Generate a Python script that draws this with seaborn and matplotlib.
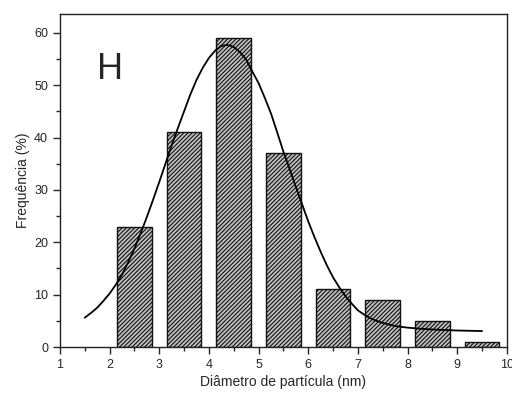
import matplotlib
matplotlib.use("Agg")
import matplotlib.pyplot as plt
import seaborn as sns
import pandas as pd
from matplotlib.ticker import MultipleLocator

# Histogram bars
diameters = [2.5, 3.5, 4.5, 5.5, 6.5, 7.5, 8.5, 9.5]
frequencies = [23, 41, 59, 37, 11, 9, 5, 1]

# Fitted curve
curve_x = [1.5, 1.625, 1.75, 1.875, 2.0, 2.125, 2.25, 2.375, 2.5, 2.625, 2.75, 2.875,
           3.0, 3.125, 3.25, 3.375, 3.5, 3.625, 3.75, 3.875, 4.0, 4.125, 4.25, 4.375,
           4.5, 4.625, 4.75, 4.875, 5.0, 5.125, 5.25, 5.375, 5.5, 5.625, 5.75, 5.875,
           6.0, 6.125, 6.25, 6.375, 6.5, 6.625, 6.75, 6.875, 7.0, 7.125, 7.25, 7.375,
           7.5, 7.625, 7.75, 7.875, 8.0, 8.25, 8.5, 8.75, 9.0, 9.25, 9.5]
curve_y = [5.6, 6.5, 7.5, 8.8, 10.2, 11.9, 13.8, 16.2, 18.8, 21.7, 24.8, 28.1,
           31.5, 35.0, 38.5, 41.8, 45.0, 48.2, 51.0, 53.3, 55.2, 56.6, 57.5, 57.7,
           57.3, 56.3, 54.9, 52.6, 50.4, 47.6, 44.6, 41.0, 37.3, 34.0, 30.6, 27.3,
           24.0, 21.0, 18.2, 15.6, 13.3, 11.4, 9.7, 8.3, 7.0, 6.2, 5.5, 5.0,
           4.6, 4.3, 4.0, 3.85, 3.7, 3.5, 3.35, 3.25, 3.15, 3.1, 3.05]

x_ticks = [1, 2, 3, 4, 5, 6, 7, 8, 9, 10]
y_ticks = [0, 10, 20, 30, 40, 50, 60]

sns.set_style("ticks")
plt.rcParams['font.family'] = ['Liberation Sans', 'DejaVu Sans']
plt.rcParams['hatch.linewidth'] = 0.8

fig = plt.figure(figsize=(5.12, 3.96), dpi=100)
ax = fig.add_axes([0.117, 0.1237, 0.873, 0.841])

df = pd.DataFrame({"d": diameters, "f": frequencies})
sns.barplot(data=df, x="d", y="f", native_scale=True, width=0.7,
            color="#c0c0c0", edgecolor="black", linewidth=1.0, ax=ax,
            saturation=1)
for p in ax.patches:
    p.set_hatch("////////")
    p.set_facecolor("#c0c0c0")
    p.set_edgecolor("#111111")

cdf = pd.DataFrame({"x": curve_x, "y": curve_y})
sns.lineplot(data=cdf, x="x", y="y", color="black", linewidth=1.3, ax=ax)

ax.set_xlim(1, 10)
ax.set_ylim(0, 63.6)
ax.set_xticks(x_ticks)
ax.set_xticklabels([str(t) for t in x_ticks])
ax.set_yticks(y_ticks)
ax.xaxis.set_minor_locator(MultipleLocator(0.5))
ax.yaxis.set_minor_locator(MultipleLocator(5))
ax.tick_params(axis='both', which='major', direction='out', length=5, width=1,
               labelsize=9, top=False, right=False)
ax.tick_params(axis='both', which='minor', direction='out', length=3, width=1,
               top=False, right=False)
for s in ax.spines.values():
    s.set_visible(True)
    s.set_linewidth(1.0)
    s.set_color('#222222')

ax.set_xlabel("Diâmetro de partícula (nm)", fontsize=10, labelpad=3)
ax.set_ylabel("Frequência (%)", fontsize=10, labelpad=3)
ax.text(2.0, 53, "H", fontsize=26, ha="center", va="center")

fig.savefig("out.png", dpi=100)
